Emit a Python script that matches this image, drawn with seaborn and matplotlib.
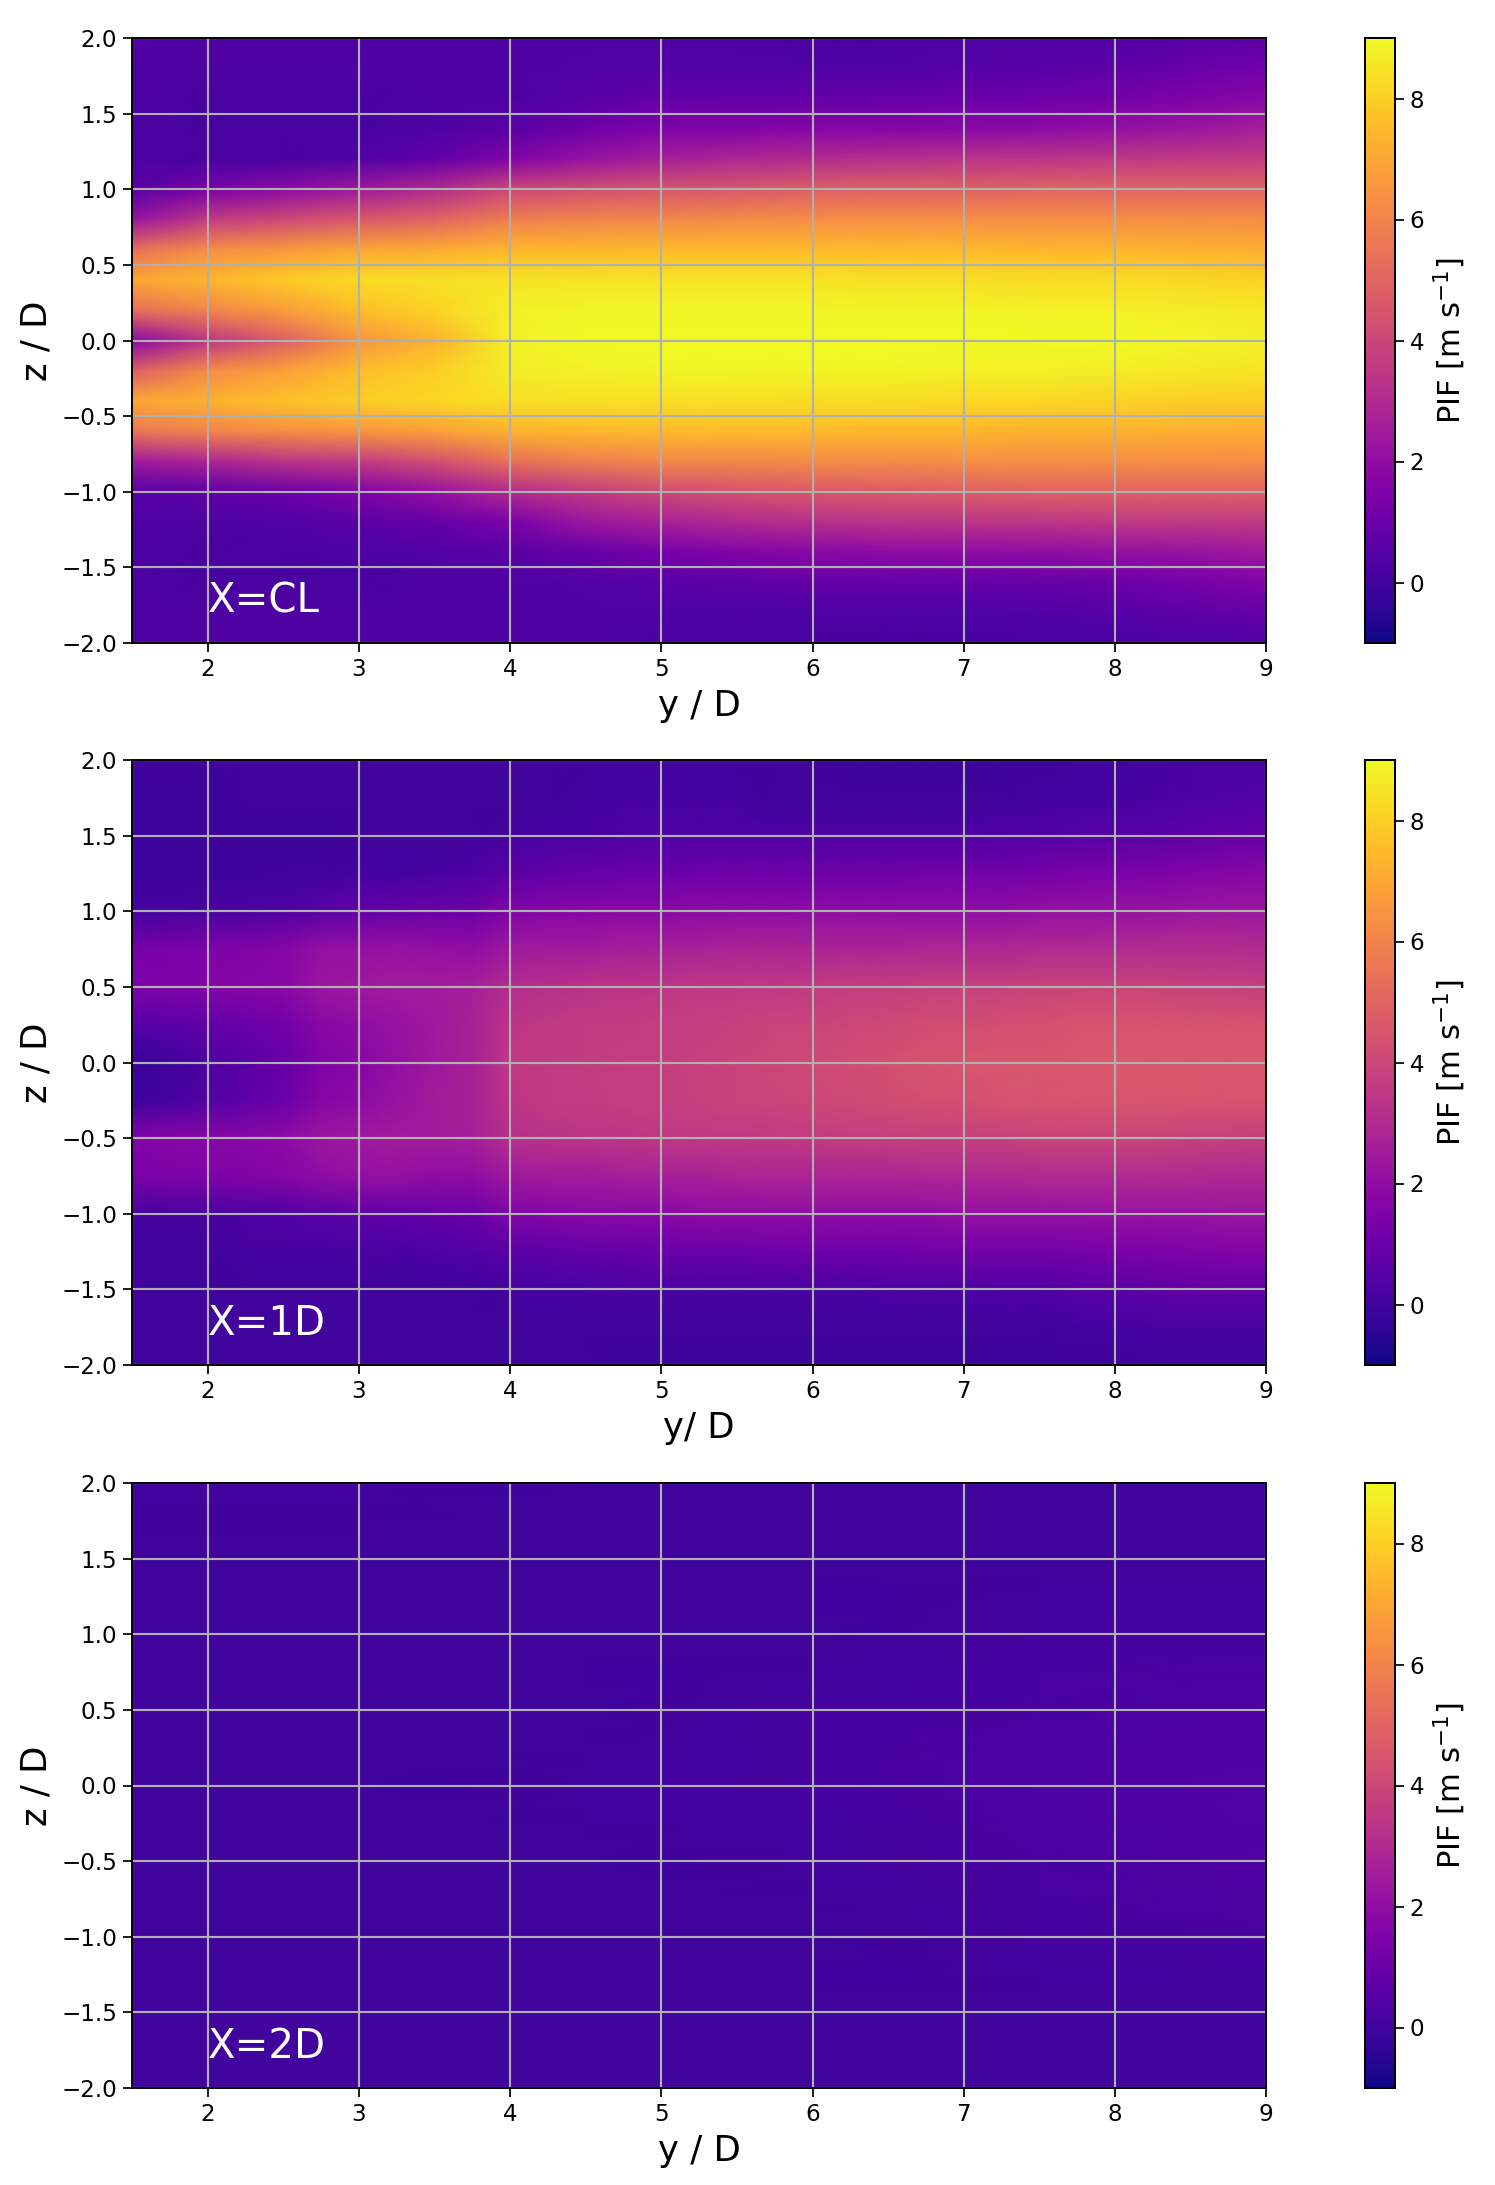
import numpy as np
import matplotlib
matplotlib.use("Agg")
import matplotlib.pyplot as plt
import seaborn as sns

# axis ticks
y_ticks = [2, 3, 4, 5, 6, 7, 8, 9]
z_ticks = [2.0, 1.5, 1.0, 0.5, 0.0, -0.5, -1.0, -1.5, -2.0]
z_tick_labels = ["2.0", "1.5", "1.0", "0.5", "0.0", "\u22120.5", "\u22121.0", "\u22121.5", "\u22122.0"]

# X=CL (y = 1.5..9 step 0.5, z = 2..-2 step 0.2)
y_cl = [1.5, 2, 2.5, 3, 3.5, 4, 4.5, 5, 5.5, 6, 6.5, 7, 7.5, 8, 8.5, 9]
z_cl = [2.0, 1.8, 1.6, 1.4, 1.2, 1.0, 0.8, 0.6, 0.4, 0.2, 0.0,
        -0.2, -0.4, -0.6, -0.8, -1.0, -1.2, -1.4, -1.6, -1.8, -2.0]
pif_cl = [
    [.4, .3, .3, .3, .3, .3, .3, .3, .3, .2, .2, .3, .4, .4, .6, .7],
    [.3, .3, .3, .3, .3, .3, .4, .4, .4, .4, .4, .5, .6, .7, 1.0, 1.2],
    [.3, .2, .2, .2, .3, .3, .6, .8, .8, .9, .9, 1.0, 1.1, 1.2, 1.5, 1.8],
    [.3, .2, .2, .2, .3, .6, 1.1, 1.5, 1.6, 1.7, 1.7, 1.8, 1.9, 2.1, 2.3, 2.6],
    [.3, .2, .2, .4, .8, 1.6, 2.2, 2.6, 2.9, 3.1, 3.2, 3.3, 3.4, 3.5, 3.6, 3.7],
    [.5, 1.4, 1.9, 2.4, 3.0, 4.0, 4.3, 4.5, 4.6, 4.8, 4.9, 4.9, 5.0, 5.0, 5.0, 5.0],
    [2.2, 3.6, 4.1, 4.6, 5.0, 5.8, 6.0, 6.1, 6.2, 6.3, 6.3, 6.3, 6.3, 6.3, 6.3, 6.3],
    [5.4, 6.3, 6.6, 7.0, 7.1, 7.4, 7.4, 7.5, 7.5, 7.5, 7.5, 7.5, 7.4, 7.4, 7.3, 7.2],
    [7.0, 7.4, 7.9, 8.3, 8.4, 8.5, 8.5, 8.5, 8.5, 8.5, 8.4, 8.4, 8.3, 8.3, 8.2, 8.1],
    [5.3, 6.0, 6.7, 7.6, 8.1, 8.8, 8.9, 8.9, 8.9, 8.9, 8.9, 8.9, 8.8, 8.8, 8.7, 8.6],
    [1.8, 3.4, 4.8, 6.5, 7.3, 8.8, 9.0, 9.0, 9.0, 9.0, 9.0, 9.0, 9.0, 9.0, 8.9, 8.8],
    [4.8, 6.2, 6.8, 7.6, 8.0, 8.7, 8.8, 8.9, 8.9, 8.9, 8.9, 8.8, 8.8, 8.7, 8.6, 8.5],
    [7.0, 7.3, 7.7, 8.0, 8.2, 8.4, 8.4, 8.4, 8.4, 8.3, 8.3, 8.2, 8.2, 8.1, 8.0, 7.9],
    [5.6, 6.0, 6.3, 6.5, 6.8, 7.3, 7.4, 7.5, 7.5, 7.5, 7.4, 7.4, 7.3, 7.3, 7.2, 7.2],
    [2.4, 2.8, 3.3, 3.6, 4.3, 5.4, 5.8, 6.1, 6.1, 6.2, 6.2, 6.3, 6.3, 6.3, 6.3, 6.3],
    [.5, .7, 1.0, 1.5, 2.1, 3.0, 3.6, 4.1, 4.4, 4.6, 4.7, 4.8, 4.9, 4.9, 4.9, 4.9],
    [.3, .3, .4, .6, .9, 1.4, 2.3, 2.7, 3.0, 3.2, 3.3, 3.4, 3.4, 3.5, 3.5, 3.5],
    [.3, .2, .2, .3, .4, .6, .9, 1.3, 1.6, 1.8, 1.9, 1.9, 2.0, 2.1, 2.2, 2.4],
    [.3, .2, .2, .2, .3, .3, .4, .6, .7, .8, .8, .8, .9, 1.0, 1.3, 1.6],
    [.3, .3, .3, .3, .3, .3, .3, .3, .3, .3, .3, .3, .4, .5, .7, .9],
    [.3, .3, .3, .3, .3, .3, .3, .2, .2, .2, .1, .1, .2, .2, .3, .4],
]

# X=1D (y step 0.25, z step 0.25)
y_1d = [1.5, 1.75, 2, 2.25, 2.5, 2.75, 3, 3.25, 3.5, 3.75, 4, 4.25, 4.5, 4.75, 5, 5.25,
        5.5, 5.75, 6, 6.25, 6.5, 6.75, 7, 7.25, 7.5, 7.75, 8, 8.25, 8.5, 8.75, 9]
z_1d = [2.0, 1.75, 1.5, 1.25, 1.0, 0.75, 0.5, 0.25, 0.0,
        -0.25, -0.5, -0.75, -1.0, -1.25, -1.5, -1.75, -2.0]
pif_1d = [
    [.0, .0, .0, .0, .0, .0, .0, .0, .0, .0, .0, .0, .0, .0, .0, .0, .0, .0, .0, -.1, -.1, -.1, -.1, -.1, -.1, .0, .0, .1, .1, .2, .2],
    [-.1, -.1, -.1, .0, .0, .0, .0, .0, .0, .0, .0, .0, .1, .1, .1, .1, .1, .0, .0, .0, .0, .0, .0, .0, .1, .1, .1, .2, .3, .4, .5],
    [-.1, -.1, -.1, -.1, -.1, -.1, .0, .0, .0, .0, .1, .2, .2, .3, .3, .3, .3, .3, .3, .3, .3, .3, .3, .4, .4, .5, .5, .6, .7, .8, .9],
    [-.1, -.1, -.1, -.1, .0, .0, .1, .1, .2, .3, .6, .8, .9, 1.0, 1.0, 1.1, 1.1, 1.1, 1.1, 1.1, 1.1, 1.2, 1.2, 1.2, 1.3, 1.4, 1.4, 1.5, 1.6, 1.7, 1.8],
    [.1, .1, .2, .3, .4, .6, .8, .9, 1.0, 1.1, 1.6, 1.7, 1.8, 1.8, 1.8, 1.9, 1.9, 1.9, 2.0, 2.0, 2.0, 2.0, 2.0, 2.0, 2.1, 2.1, 2.2, 2.2, 2.3, 2.3, 2.3],
    [1.3, 1.4, 1.5, 1.6, 1.7, 2.1, 2.1, 2.2, 2.1, 2.0, 2.4, 2.5, 2.5, 2.6, 2.7, 2.7, 2.8, 2.8, 2.8, 2.8, 2.8, 2.9, 2.9, 2.9, 3.0, 3.0, 3.0, 3.1, 3.1, 3.1, 3.0],
    [1.5, 1.6, 1.6, 1.7, 1.8, 2.3, 2.4, 2.5, 2.5, 2.6, 3.1, 3.2, 3.3, 3.4, 3.4, 3.5, 3.5, 3.5, 3.6, 3.7, 3.7, 3.8, 3.8, 3.8, 3.9, 3.9, 3.9, 3.9, 3.8, 3.8, 3.7],
    [.5, .6, .8, 1.0, 1.2, 1.8, 2.0, 2.2, 2.4, 2.7, 3.4, 3.5, 3.6, 3.6, 3.7, 3.7, 3.8, 3.9, 3.9, 4.0, 4.1, 4.2, 4.2, 4.3, 4.3, 4.4, 4.4, 4.4, 4.4, 4.4, 4.4],
    [-.2, .0, .3, .6, .9, 1.5, 1.8, 2.1, 2.4, 2.7, 3.5, 3.6, 3.6, 3.7, 3.7, 3.8, 3.9, 4.0, 4.1, 4.2, 4.3, 4.4, 4.5, 4.5, 4.5, 4.6, 4.6, 4.6, 4.6, 4.6, 4.6],
    [-.1, .1, .4, .7, 1.0, 1.7, 1.9, 2.2, 2.5, 2.7, 3.4, 3.6, 3.6, 3.7, 3.7, 3.8, 3.9, 3.9, 4.0, 4.1, 4.2, 4.3, 4.3, 4.4, 4.4, 4.4, 4.5, 4.5, 4.5, 4.4, 4.4],
    [1.6, 1.7, 1.7, 1.8, 1.9, 2.3, 2.4, 2.5, 2.5, 2.6, 3.2, 3.3, 3.4, 3.4, 3.5, 3.5, 3.5, 3.6, 3.6, 3.7, 3.7, 3.8, 3.8, 3.8, 3.9, 3.9, 3.9, 3.9, 3.8, 3.8, 3.7],
    [1.4, 1.5, 1.5, 1.6, 1.7, 2.0, 2.1, 2.1, 2.0, 2.0, 2.4, 2.5, 2.5, 2.6, 2.7, 2.7, 2.8, 2.8, 2.8, 2.8, 2.8, 2.9, 2.9, 2.9, 3.0, 3.0, 3.0, 3.0, 3.0, 2.9, 2.9],
    [.1, .2, .2, .3, .4, .6, .7, .8, .9, 1.0, 1.6, 1.7, 1.8, 1.8, 1.8, 1.9, 1.9, 2.0, 2.0, 2.0, 2.0, 2.0, 2.1, 2.1, 2.1, 2.1, 2.2, 2.2, 2.2, 2.3, 2.3],
    [.0, .0, .0, .1, .1, .1, .2, .2, .3, .4, .6, .7, .8, .9, 1.0, 1.0, 1.0, 1.1, 1.1, 1.1, 1.1, 1.2, 1.2, 1.2, 1.2, 1.3, 1.4, 1.4, 1.5, 1.6, 1.6],
    [.0, .0, .0, .0, .0, .0, .0, .0, .0, .0, .1, .1, .2, .2, .2, .2, .2, .2, .2, .2, .3, .3, .3, .4, .4, .5, .6, .7, .8, .8, .8],
    [.0, .0, .0, .0, .0, .0, .0, .0, .0, .0, .0, .0, .0, .0, .0, .0, .0, .0, .0, .0, .0, .0, .0, .0, .0, .1, .1, .2, .2, .2, .2],
    [.0, .0, .0, .0, .0, .0, .0, .0, .0, .0, .0, .0, .0, -.1, -.1, -.1, -.1, -.1, -.1, -.1, -.1, -.1, -.1, -.1, -.1, -.1, -.1, .0, .0, .0, .0],
]

# X=2D is nearly flat so a coarse grid is enough
y_2d = [1.5, 3, 4.5, 6, 7.5, 9]
z_2d = [2.0, 1.5, 1.0, 0.5, 0.0, -0.5, -1.0, -1.5, -2.0]
pif_2d = [
    [.05, .05, .0, .0, .0, .0],
    [.0, .0, .0, .0, .0, .0],
    [.0, .0, .0, .0, .1, .1],
    [.0, .0, .0, .1, .2, .3],
    [.0, .0, .05, .1, .3, .4],
    [.0, .0, .0, .05, .2, .35],
    [.0, .0, .0, .0, .1, .2],
    [.0, .0, .0, .0, .0, .0],
    [.0, .0, .0, .0, .0, .0],
]

panels = [
    (pif_cl, y_cl, z_cl, "X=CL", "y / D", 38),
    (pif_1d, y_1d, z_1d, "X=1D", "y/ D", 760),
    (pif_2d, y_2d, z_2d, "X=2D", "y / D", 1483),
]

W, H = 1495, 2185
DPI = 138
fig = plt.figure(figsize=(W / DPI, H / DPI), dpi=DPI)

for pif, ys, zs, tag, xlab, top in panels:
    ax = fig.add_axes([132.3 / W, 1 - (top + 605) / H, 1133.7 / W, 605 / H])
    cax = fig.add_axes([1365 / W, 1 - (top + 605) / H, 29.5 / W, 605 / H])

    # gouraud: grid nodes sit on integer positions, colours blend between them
    sns.heatmap(np.array(pif), ax=ax, cbar_ax=cax, cmap="plasma", vmin=-1, vmax=9,
                xticklabels=False, yticklabels=False, shading="gouraud",
                cbar_kws={"label": "PIF [m s$^{-1}$]"})
    ax.set_xlim(0, len(ys) - 1)
    ax.set_ylim(len(zs) - 1, 0)

    # heatmap axes run on cell index, so map real y/z onto them
    xpos = np.interp(y_ticks, ys, np.arange(len(ys)))
    ypos = np.interp(z_ticks, zs[::-1], np.arange(len(zs))[::-1])
    ax.set_xticks(xpos)
    ax.set_xticklabels(y_ticks, rotation=0, fontsize=12)
    ax.set_yticks(ypos)
    ax.set_yticklabels(z_tick_labels, rotation=0, fontsize=12)
    ax.tick_params(length=4.5, width=0.9)
    ax.grid(True, color="#b0b0b0", linewidth=1.1)
    ax.set_axisbelow("line")
    for s in ax.spines.values():
        s.set_visible(True)
        s.set_linewidth(1.0)
        s.set_color("black")

    ax.set_xlabel(xlab, fontsize=18.5)
    ax.set_ylabel("z / D", fontsize=18.5)
    ax.text(xpos[0], np.interp(-1.8, zs[::-1], np.arange(len(zs))[::-1]), tag,
            color="white", fontsize=21, ha="left", va="baseline")

    cax.tick_params(labelsize=12, length=4.5, width=0.9)
    cax.yaxis.label.set_size(16)
    for s in cax.spines.values():
        s.set_visible(True)
        s.set_linewidth(1.0)
    cax.set_frame_on(True)

fig.savefig("out.png", dpi=DPI)
